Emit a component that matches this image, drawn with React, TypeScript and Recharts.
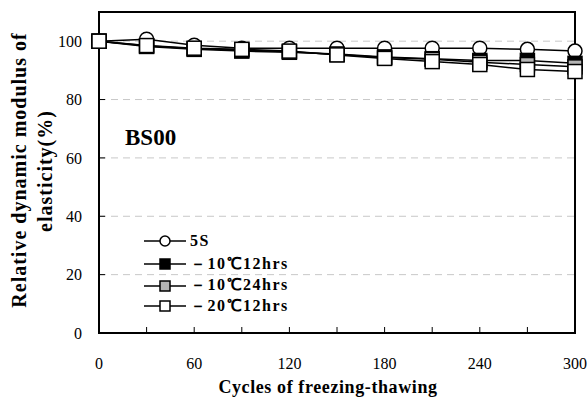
import { LineChart, Line, XAxis, YAxis, CartesianGrid, ReferenceArea } from 'recharts'

const FONT = '"Liberation Serif", "Times New Roman", serif'

// cycles of freezing-thawing
const cycles = [0, 30, 60, 90, 120, 150, 180, 210, 240, 270, 300]

// relative dynamic modulus of elasticity (%)
const s5 = [100, 100.7, 98.6, 97.6, 97.6, 97.6, 97.6, 97.6, 97.6, 97.2, 96.6]
const m10h12 = [100, 98.2, 97.2, 96.6, 96.2, 95.6, 94.6, 94.0, 93.4, 93.4, 92.4]
const m10h24 = [100, 98.4, 97.4, 97.0, 96.4, 95.4, 94.4, 93.8, 92.8, 92.0, 91.2]
const m20h12 = [100, 98.5, 97.6, 97.2, 96.6, 95.3, 94.1, 93.0, 92.0, 90.3, 89.6]

const xTicks = [0, 30, 60, 90, 120, 150, 180, 210, 240, 270, 300]
const yTicks = [0, 20, 40, 60, 80, 100]

const series = [
  { key: 's5', name: '5S', shape: 'circle', fill: '#ffffff' },
  { key: 'm10h12', name: '－10℃12hrs', shape: 'square', fill: '#000000' },
  { key: 'm10h24', name: '－10℃24hrs', shape: 'square', fill: '#b4b4b4' },
  { key: 'm20h12', name: '－20℃12hrs', shape: 'square', fill: '#ffffff' },
]

const data = cycles.map((c, i) => ({
  cycle: c,
  s5: s5[i],
  m10h12: m10h12[i],
  m10h24: m10h24[i],
  m20h12: m20h12[i],
}))

function Marker({ cx, cy, shape, fill, size }: any) {
  if (shape === 'circle') {
    return <circle cx={cx} cy={cy} r={size / 2} fill={fill} stroke="#000" strokeWidth={1.5} />
  }
  return (
    <rect x={cx - size / 2} y={cy - size / 2} width={size} height={size} fill={fill} stroke="#000" strokeWidth={1.5} />
  )
}

const makeDot = (shape: string, fill: string) => (props: any) => (
  <Marker key={props.index} cx={props.cx} cy={props.cy} shape={shape} fill={fill} size={14} />
)

function XTick({ x, y, payload }: any) {
  if (payload.value % 60 !== 0) return <g />
  return (
    <text x={x} y={y} dy="0.71em" textAnchor="middle" fontSize={16} fontFamily={FONT} fill="#000">
      {payload.value}
    </text>
  )
}

// row heights of the legend, top to bottom
const legendRows = [25, 22, 21, 20]

function ChartLegend() {
  return (
    <div
      style={{
        position: 'absolute',
        left: 144,
        top: 228,
        fontFamily: FONT,
        fontWeight: 'bold',
        fontSize: 16,
        letterSpacing: 1.5,
        color: '#000',
      }}
    >
      {series.map((s, i) => (
        <div key={s.key} style={{ display: 'flex', alignItems: 'center', height: legendRows[i] }}>
          <svg width={42} height={14} style={{ marginRight: 4 }}>
            <line x1={0} y1={7} x2={42} y2={7} stroke="#000" strokeWidth={1.5} />
            <Marker cx={21} cy={7} shape={s.shape} fill={s.fill} size={10} />
          </svg>
          <span style={{ whiteSpace: 'nowrap' }}>{s.name}</span>
        </div>
      ))}
    </div>
  )
}

function Labels() {
  return (
    <svg
      width={588}
      height={403}
      style={{ position: 'absolute', left: 0, top: 0, pointerEvents: 'none' }}
      fontFamily={FONT}
      fontWeight="bold"
      fill="#000"
    >
      <text x={19} y={170} transform="rotate(-90 19 170)" textAnchor="middle" dominantBaseline="central" fontSize={20} letterSpacing={1}>
        Relative dynamic modulus of
      </text>
      <text x={45} y={171} transform="rotate(-90 45 171)" textAnchor="middle" dominantBaseline="central" fontSize={20} letterSpacing={1}>
        elasticity(%)
      </text>
      <text x={328} y={393} textAnchor="middle" fontSize={18} letterSpacing={0.6}>
        Cycles of freezing-thawing
      </text>
      <text x={125} y={145} fontSize={23}>
        BS00
      </text>
    </svg>
  )
}

export default function App() {
  return (
    <div style={{ position: 'absolute', left: 0, top: 0, width: 588, height: 403, background: '#fff' }}>
      <LineChart width={588} height={403} data={data} margin={{ top: 12, right: 13, bottom: 0, left: 0 }}>
        <CartesianGrid vertical={false} stroke="#c8c8c8" strokeDasharray="7 5" />
        <ReferenceArea x1={0} x2={300} y1={0} y2={110} fill="none" stroke="#000" strokeWidth={2} ifOverflow="visible" />
        <XAxis
          dataKey="cycle"
          type="number"
          domain={[0, 300]}
          ticks={xTicks}
          tick={<XTick />}
          tickSize={-6}
          tickMargin={31}
          tickLine={{ stroke: '#000', strokeWidth: 1 }}
          axisLine={{ stroke: '#000', strokeWidth: 2 }}
          height={70}
          interval={0}
        />
        <YAxis
          type="number"
          domain={[0, 110]}
          ticks={yTicks}
          tickSize={-6}
          tickMargin={23}
          tick={{ fill: '#000', fontSize: 16, fontFamily: FONT }}
          tickLine={{ stroke: '#000', strokeWidth: 1 }}
          axisLine={{ stroke: '#000', strokeWidth: 2 }}
          width={99}
          interval={0}
        />
        {series.map((s) => (
          <Line
            key={s.key}
            dataKey={s.key}
            name={s.name}
            stroke="#000"
            strokeWidth={1.5}
            dot={makeDot(s.shape, s.fill)}
            activeDot={false}
            isAnimationActive={false}
          />
        ))}
      </LineChart>
      <ChartLegend />
      <Labels />
    </div>
  )
}
